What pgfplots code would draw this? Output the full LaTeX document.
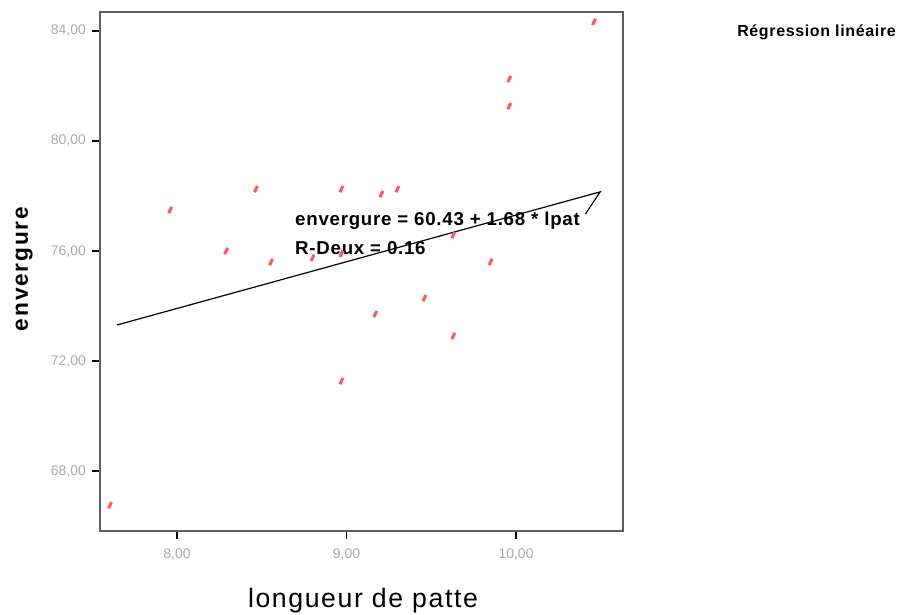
\documentclass[border=0pt]{standalone}
\usepackage{fontspec}
\setmainfont{Liberation Sans}
\usepackage{pgfplots}
\pgfplotsset{compat=1.18}

\definecolor{markred}{RGB}{250,90,90}
\definecolor{framegray}{RGB}{95,95,95}
\definecolor{ticktext}{RGB}{170,170,170}

\begin{document}
\begin{tikzpicture}[x=0.75pt,y=0.75pt]
% frame of the whole picture, axis corner sits at (0,0)
\useasboundingbox (-100,-83) rectangle (805,531);
\begin{axis}[
    anchor=south west,
    width=392.25pt, height=389.25pt, scale only axis,
    xmin=7.546, xmax=10.631,
    ymin=65.82, ymax=84.69,
    xtick={8,9,10},
    ytick={68,72,76,80,84},
    axis line style={draw=framegray, line width=1.5pt},
    tick align=outside,
    tick pos=left,
    major tick length=6pt,
    tick style={black, line width=1.3pt},
    ticklabel style={font=\fontsize{10.5}{12}\selectfont, text=ticktext},
    yticklabel style={xshift=-1pt},
    xticklabel style={yshift=-4pt},
    /pgf/number format/use comma,
    /pgf/number format/fixed,
    /pgf/number format/fixed zerofill,
    /pgf/number format/precision=2,
    /pgf/number format/assume math mode=true,
    clip=false
]
  % points: longueur de patte vs envergure
  \addplot[only marks, mark=|, mark size=2.6pt, color=markred, line width=2.3pt,
           every mark/.append style={rotate=-25}]
    coordinates {
      (7.605,66.76) (7.96,77.49) (8.29,76.00) (8.466,78.25) (8.555,75.60)
      (8.80,75.75) (8.97,78.25) (8.97,75.90) (8.97,71.27) (9.206,78.07)
      (9.30,78.25) (9.17,73.71) (9.46,74.29) (9.63,76.58) (9.63,72.91)
      (9.85,75.60) (9.96,82.25) (9.96,81.27) (10.46,84.33)
    };
  % regression line
  \addplot[black, line width=0.9pt] coordinates {(7.646,73.31) (10.496,78.15) (10.41,77.35)};
  \node[anchor=base west, inner sep=0, font=\fontsize{14}{16}\selectfont\bfseries\addfontfeatures{LetterSpace=4}]
    at (axis cs:8.696,76.91) {envergure = 60.43 + 1.68 * lpat};
  \node[anchor=base west, inner sep=0, font=\fontsize{14}{16}\selectfont\bfseries\addfontfeatures{LetterSpace=4}]
    at (axis cs:8.696,75.89) {R-Deux = 0.16};
\end{axis}
\begin{scope}[shift={(-100,-83)}]
\node[rotate=90, anchor=base, inner sep=0, font=\fontsize{17}{19}\selectfont\bfseries\addfontfeatures{LetterSpace=8}] at (28,345) {envergure};
\node[anchor=base, inner sep=0, font=\fontsize{20}{23}\selectfont\addfontfeatures{LetterSpace=6}] at (363,7) {longueur de patte};
\node[anchor=base west, inner sep=0, font=\fontsize{12}{14}\selectfont\bfseries\addfontfeatures{LetterSpace=4}] at (737,577) {Régression linéaire};
\end{scope}
\end{tikzpicture}
\end{document}
